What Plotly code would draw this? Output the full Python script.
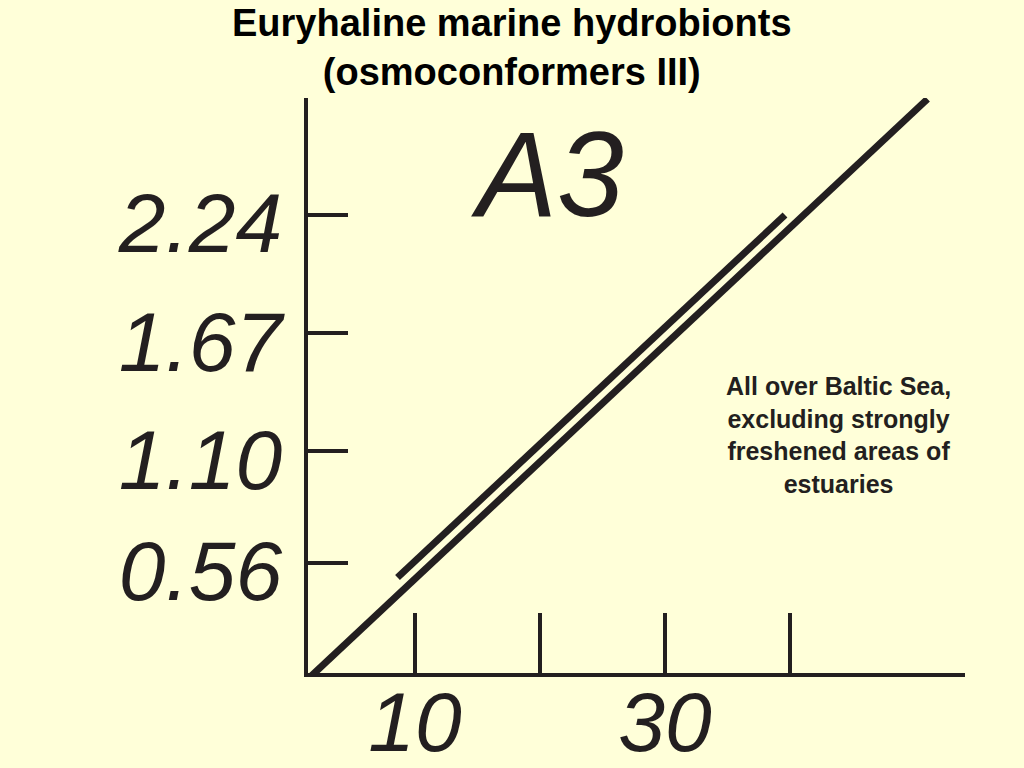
import plotly.graph_objects as go

# Data
title_lines = ["Euryhaline marine hydrobionts", "(osmoconformers III)"]
y_tick_values = [0.56, 1.10, 1.67, 2.24]
y_tick_labels = ["0.56", "1.10", "1.67", "2.24"]
x_tick_values = [10, 20, 30, 40]
x_tick_labels = ["10", "", "30", ""]
main_x = [1.44, 51.0]
main_y = [0.0, 2.80]
range_x = [8.6, 39.6]
range_y = [0.49, 2.24]
panel_label = "A3"
note_lines = ["All over Baltic Sea,", "excluding strongly", "freshened areas of", "estuaries"]

ink = "#231F20"
bg = "#FFFFD9"
font = "Liberation Sans"

fig = go.Figure()
fig.add_trace(go.Scatter(x=main_x, y=main_y, mode="lines",
                         line=dict(color=ink, width=7), showlegend=False, hoverinfo="skip"))
fig.add_trace(go.Scatter(x=range_x, y=range_y, mode="lines",
                         line=dict(color=ink, width=7), showlegend=False, hoverinfo="skip"))

# Title (as annotation so both lines stay inside the page)
fig.add_annotation(x=0.3105, y=1.088, xref="paper", yref="paper", xanchor="center", yanchor="middle",
                   text="<br>".join(title_lines), showarrow=False, align="center",
                   font=dict(family=font, size=38, color="black", weight="bold"))

fig.add_annotation(x=20.6, y=2.44, xref="x", yref="y", text=panel_label, showarrow=False,
                   font=dict(family=font, size=120, color=ink, style="italic"),
                   xanchor="center", yanchor="middle")

fig.add_annotation(x=43.84, y=1.176, xref="x", yref="y", text="<br>".join(note_lines),
                   showarrow=False, align="center",
                   font=dict(family=font, size=25, color=ink, weight="bold"),
                   xanchor="center", yanchor="middle")

fig.update_layout(
    width=1024, height=768,
    paper_bgcolor=bg, plot_bgcolor=bg,
    margin=dict(l=308, r=59, t=98, b=95, autoexpand=False),
    xaxis=dict(range=[1.44, 54.0], showgrid=False, zeroline=False, automargin=False,
               showline=True, linewidth=4, linecolor=ink,
               ticks="inside", ticklen=60, tickwidth=4, tickcolor=ink,
               tickvals=x_tick_values, ticktext=x_tick_labels,
               ticklabelstandoff=-27,
               tickfont=dict(family=font, size=84, color=ink, style="italic")),
    yaxis=dict(range=[0.029, 2.805], showgrid=False, zeroline=False, automargin=False,
               showline=True, linewidth=4, linecolor=ink,
               ticks="inside", ticklen=40, tickwidth=4, tickcolor=ink,
               tickvals=y_tick_values, ticktext=y_tick_labels,
               ticklabelshift=8, ticklabelstandoff=5,
               tickfont=dict(family=font, size=84, color=ink, style="italic")),
)

fig.write_html("out.html", config={"displayModeBar": False},
               post_script="document.body.style.margin='0';")
